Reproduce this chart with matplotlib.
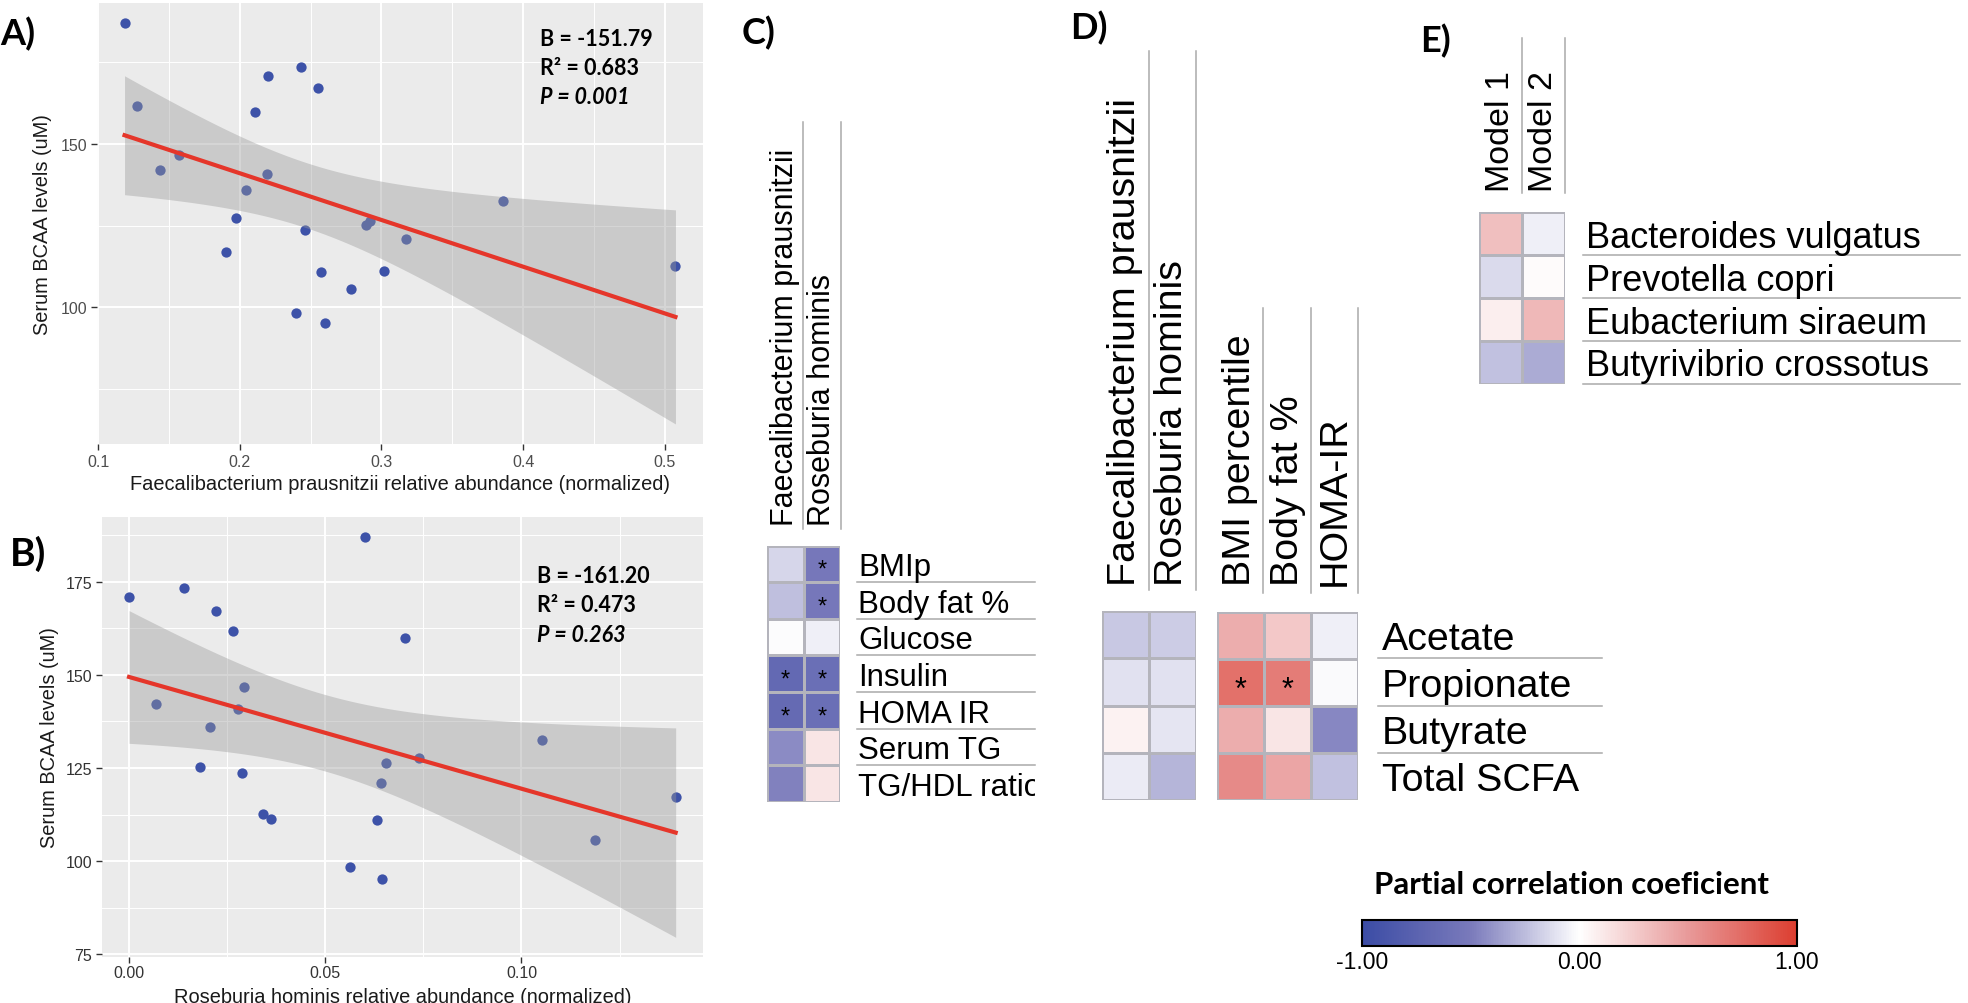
import numpy as np
import matplotlib
matplotlib.use('Agg')
import matplotlib.pyplot as plt
from matplotlib.colors import LinearSegmentedColormap, Normalize
from matplotlib.cm import ScalarMappable
from matplotlib.transforms import Bbox, TransformedBbox

plt.rcParams['font.family'] = ['Liberation Sans', 'DejaVu Sans']
plt.rcParams['axes.unicode_minus'] = False

W, H = 1968, 1004

#Panel A: F. prausnitzii abundance vs serum BCAA
fp_abund = [0.1187, 0.1277, 0.1434, 0.157, 0.1905, 0.1973, 0.2044, 0.2107, 0.2189, 0.2196,
            0.240, 0.2429, 0.2464, 0.2555, 0.2571, 0.2602, 0.2783, 0.2893, 0.2921, 0.302,
            0.317, 0.3857, 0.5075]
fp_bcaa = [187.0, 161.7, 142.0, 146.6, 116.8, 127.3, 136.0, 159.8, 140.8, 170.7,
           98.3, 173.5, 123.6, 167.0, 110.8, 95.2, 105.6, 125.3, 126.3, 111.2,
           120.9, 132.5, 112.6]
fp_stats = ['B = -151.79', 'R\u00b2 = 0.683', 'P = 0.001']

#Panel B: R. hominis abundance vs serum BCAA
rh_abund = [0.0, 0.0069, 0.0139, 0.0181, 0.0207, 0.0221, 0.0264, 0.0277, 0.0289, 0.0292,
            0.0341, 0.0362, 0.0562, 0.0601, 0.0631, 0.0642, 0.0644, 0.0655, 0.0704, 0.074,
            0.1052, 0.1187, 0.1393]
rh_bcaa = [170.9, 142.1, 173.5, 125.4, 135.9, 167.1, 161.8, 140.8, 123.6, 146.8,
           112.6, 111.4, 98.4, 187.0, 110.9, 121.0, 95.2, 126.3, 160.0, 127.7,
           132.5, 105.7, 117.2]
rh_stats = ['B = -161.20', 'R\u00b2 = 0.473', 'P = 0.263']

T_CRIT = 2.080  # t quantile 0.975, df = 21

#Panel C heatmap
c_cols = ['Faecalibacterium prausnitzii', 'Roseburia hominis']
c_rows = ['BMIp', 'Body fat %', 'Glucose', 'Insulin', 'HOMA IR', 'Serum TG', 'TG/HDL ratio']
c_vals = [[-0.15, -0.53], [-0.24, -0.53], [-0.01, -0.06], [-0.68, -0.62],
          [-0.67, -0.62], [-0.43, 0.13], [-0.47, 0.13]]
c_sig = [[0, 1], [0, 1], [0, 0], [1, 1], [1, 1], [0, 0], [0, 0]]

#Panel D heatmaps
d_rows = ['Acetate', 'Propionate', 'Butyrate', 'Total SCFA']
d_taxa_cols = ['Faecalibacterium prausnitzii', 'Roseburia hominis']
d_taxa_vals = [[-0.21, -0.19], [-0.11, -0.11], [0.07, -0.10], [-0.075, -0.28]]
d_clin_cols = ['BMI percentile', 'Body fat %', 'HOMA-IR']
d_clin_vals = [[0.40, 0.27, -0.06], [0.72, 0.66, -0.02], [0.40, 0.13, -0.45], [0.58, 0.44, -0.23]]
d_clin_sig = [[0, 0, 0], [1, 1, 0], [0, 0, 0], [0, 0, 0]]

#Panel E heatmap
e_cols = ['Model 1', 'Model 2']
e_rows = ['Bacteroides vulgatus', 'Prevotella copri', 'Eubacterium siraeum', 'Butyrivibrio crossotus']
e_vals = [[0.32, -0.06], [-0.14, 0.02], [0.08, 0.35], [-0.23, -0.32]]

cbar_ticks = [-1, 0, 1]
cbar_labels = ['-1.00', '0.00', '1.00']

cmap = LinearSegmentedColormap.from_list(
    'pcc', ['#3b4ca5', '#7a7abb', '#ffffff', '#e89a9a', '#dc3e30'])
norm = Normalize(-1, 1)

fig = plt.figure(figsize=(W / 100, H / 100), dpi=100)


def box(x0, y0, x1, y1):
    return [x0 / W, 1 - y1 / H, (x1 - x0) / W, (y1 - y0) / H]


def scatter_panel(pxbox, x, y, xmaj, xmin, xlabs, ymaj, ymin, ylabs, xlabel, tickcol):
    x = np.array(x)
    y = np.array(y)
    ax = fig.add_axes(box(*pxbox))
    ax.set_facecolor('#ebebeb')
    for s in ax.spines.values():
        s.set_visible(False)
    #linear fit with 95% confidence band
    slope, icpt = np.polyfit(x, y, 1)
    n = len(x)
    resid = y - (slope * x + icpt)
    s_err = np.sqrt(np.sum(resid ** 2) / (n - 2))
    sxx = np.sum((x - x.mean()) ** 2)
    xs = np.linspace(x.min(), x.max(), 100)
    fit = slope * xs + icpt
    band = T_CRIT * s_err * np.sqrt(1 / n + (xs - x.mean()) ** 2 / sxx)
    ax.scatter(x, y, s=55, color='#3d52a8', zorder=3, linewidths=0)
    ax.fill_between(xs, fit - band, fit + band, color='#999999', alpha=0.4, lw=0, zorder=4)
    ax.plot(xs, fit, color='#e5362a', lw=3, zorder=5)
    xr = x.max() - x.min()
    ax.set_xlim(x.min() - 0.05 * xr, x.max() + 0.05 * xr)
    lo = min(y.min(), (fit - band).min())
    hi = max(y.max(), (fit + band).max())
    ax.set_ylim(lo - 0.05 * (hi - lo), hi + 0.05 * (hi - lo))
    ax.set_xticks(xmaj)
    ax.set_xticklabels(xlabs)
    ax.set_xticks(xmin, minor=True)
    ax.set_yticks(ymaj)
    ax.set_yticklabels(ylabs)
    ax.set_yticks(ymin, minor=True)
    ax.grid(which='major', color='white', lw=1.4, zorder=0)
    ax.grid(which='minor', color='white', lw=0.7, zorder=0)
    ax.set_axisbelow(True)
    ax.tick_params(which='major', length=4, width=1, color='#333333',
                   labelsize=11.5, labelcolor=tickcol, pad=3)
    ax.tick_params(which='minor', length=0)
    ax.text(0.5, -0.09, xlabel, transform=ax.transAxes, ha='center', va='center',
            fontsize=14.4, color='#1a1a1a')
    return ax


axA = scatter_panel((97, 4, 703, 445), fp_abund, fp_bcaa,
                    [0.1, 0.2, 0.3, 0.4, 0.5], [0.15, 0.25, 0.35, 0.45],
                    ['0.1', '0.2', '0.3', '0.4', '0.5'],
                    [100, 150], [75, 125, 175], ['100', '150'],
                    'Faecalibacterium prausnitzii relative abundance (normalized)', '#4d4d4d')
axB = scatter_panel((101.7, 518.3, 703, 958.3), rh_abund, rh_bcaa,
                    [0.0, 0.05, 0.10], [0.025, 0.075, 0.125],
                    ['0.00', '0.05', '0.10'],
                    [75, 100, 125, 150, 175], [87.5, 112.5, 137.5, 162.5, 187.5],
                    ['75', '100', '125', '150', '175'],
                    'Roseburia hominis relative abundance (normalized)', '#333333')
axB.tick_params(axis='x', pad=1.5)

#overlay axes in pixel coordinates for annotations and guide lines
over = fig.add_axes([0, 0, 1, 1], zorder=10)
over.set_xlim(0, W)
over.set_ylim(H, 0)
over.axis('off')

over.text(43, 224.5, 'Serum BCAA levels (uM)', rotation=90, ha='center', va='center',
          fontsize=14.4, color='#1a1a1a')
over.text(50, 738, 'Serum BCAA levels (uM)', rotation=90, ha='center', va='center',
          fontsize=14.4, color='#1a1a1a')

lato_b = dict(family='Lato', weight='bold')
for i, t in enumerate(fp_stats):
    over.text(540, 45.7 + 29.3 * i, t, fontsize=15.5, va='baseline',
              style='italic' if i == 2 else 'normal', **lato_b)
for i, t in enumerate(rh_stats):
    over.text(537, 582.7 + 29.5 * i, t, fontsize=15.5, va='baseline',
              style='italic' if i == 2 else 'normal', **lato_b)

for lab, x, yb, fs in [('A)', 0, 45, 26), ('B)', 10, 566, 28), ('C)', 742, 44, 26),
                       ('D)', 1070, 39, 26), ('E)', 1420, 52, 26)]:
    over.text(x, yb, lab, fontsize=fs, va='baseline', **lato_b)


def heatmap(pxbox, vals, sig, star_fs):
    v = np.array(vals)
    ax = fig.add_axes(box(*pxbox))
    ax.pcolormesh(v, cmap=cmap, norm=norm, edgecolors='#b4b4bc', linewidth=0.8)
    ax.set_xlim(0, v.shape[1])
    ax.set_ylim(v.shape[0], 0)
    ax.axis('off')
    if sig is not None:
        fpx = star_fs * 100 / 72
        for r, row in enumerate(sig):
            for c, s in enumerate(row):
                if s:
                    ax.text(c + 0.5, r + 0.5 + 0.5 * fpx / ((pxbox[3] - pxbox[1]) / v.shape[0]),
                            '*', ha='center', va='baseline', fontsize=star_fs, color='black')
    return ax


def col_headers(pxbox, cols, bottom, fs):
    cw = (pxbox[2] - pxbox[0]) / len(cols)
    for i, name in enumerate(cols):
        over.text(pxbox[0] + cw * (i + 0.5), bottom, name, rotation=90, ha='center',
                  va='bottom', fontsize=fs)


def guide_vlines(xs, top, bottom):
    for x in xs:
        over.plot([x, x], [top, bottom], color='#aaaaaa', lw=1.1)


def row_labels(pxbox, rows, x, fs, line_x0, line_x1, last_line, clip=None):
    ch = (pxbox[3] - pxbox[1]) / len(rows)
    cap = 0.358 * fs * 100 / 72
    for i, name in enumerate(rows):
        t = over.text(x, pxbox[1] + ch * (i + 0.5) + cap, name, va='baseline', fontsize=fs)
        if clip is not None:
            t.set_clip_box(clip)
            t.set_clip_on(True)
    nlines = len(rows) if last_line else len(rows) - 1
    for i in range(1, nlines + 1):
        y = pxbox[1] + ch * i
        over.plot([line_x0, line_x1], [y, y], color='#aaaaaa', lw=1.1)


#C
c_box = (767, 546.6, 840, 803)
heatmap(c_box, c_vals, c_sig, 17)
col_headers(c_box, c_cols, 526, 22)
guide_vlines([803, 841], 123, 530)
c_clip = TransformedBbox(Bbox.from_extents(857 / W, 1 - 810 / H, 1035 / W, 1 - 540 / H),
                         fig.transFigure)
row_labels(c_box, c_rows, 858, 22.5, 857, 1035, False, clip=c_clip)

#D
d_box1 = (1101.7, 612, 1196, 801)
d_box2 = (1216.7, 613, 1358.3, 801)
heatmap(d_box1, d_taxa_vals, None, 22)
heatmap(d_box2, d_clin_vals, d_clin_sig, 22)
col_headers(d_box1, d_taxa_cols, 586, 28.4)
col_headers(d_box2, d_clin_cols, 586, 28.4)
guide_vlines([1149, 1196], 52, 591)
guide_vlines([1263, 1311, 1358], 309, 594)
row_labels(d_box1, d_rows, 1381.7, 28.4, 1378, 1602, False)

#E
e_box = (1478.5, 213.3, 1565, 385)
heatmap(e_box, e_vals, None, 20)
col_headers(e_box, e_cols, 191.7, 24.5)
guide_vlines([1521.7, 1565], 39, 193.5)
row_labels(e_box, e_rows, 1586, 26, 1583, 1960, True)

#colour scale
cax = fig.add_axes(box(1361.7, 921, 1796.7, 946.7))
cb = fig.colorbar(ScalarMappable(norm=norm, cmap=cmap), cax=cax, orientation='horizontal')
cb.set_ticks(cbar_ticks)
cb.set_ticklabels(cbar_labels)
cb.ax.tick_params(length=0, labelsize=16.5, pad=3)
cb.outline.set_linewidth(1.5)
cb.outline.set_edgecolor('black')
over.text(1572, 885, 'Partial correlation coeficient', ha='center', va='center',
          fontsize=22.5, **lato_b)

fig.savefig('out.png', dpi=100)
